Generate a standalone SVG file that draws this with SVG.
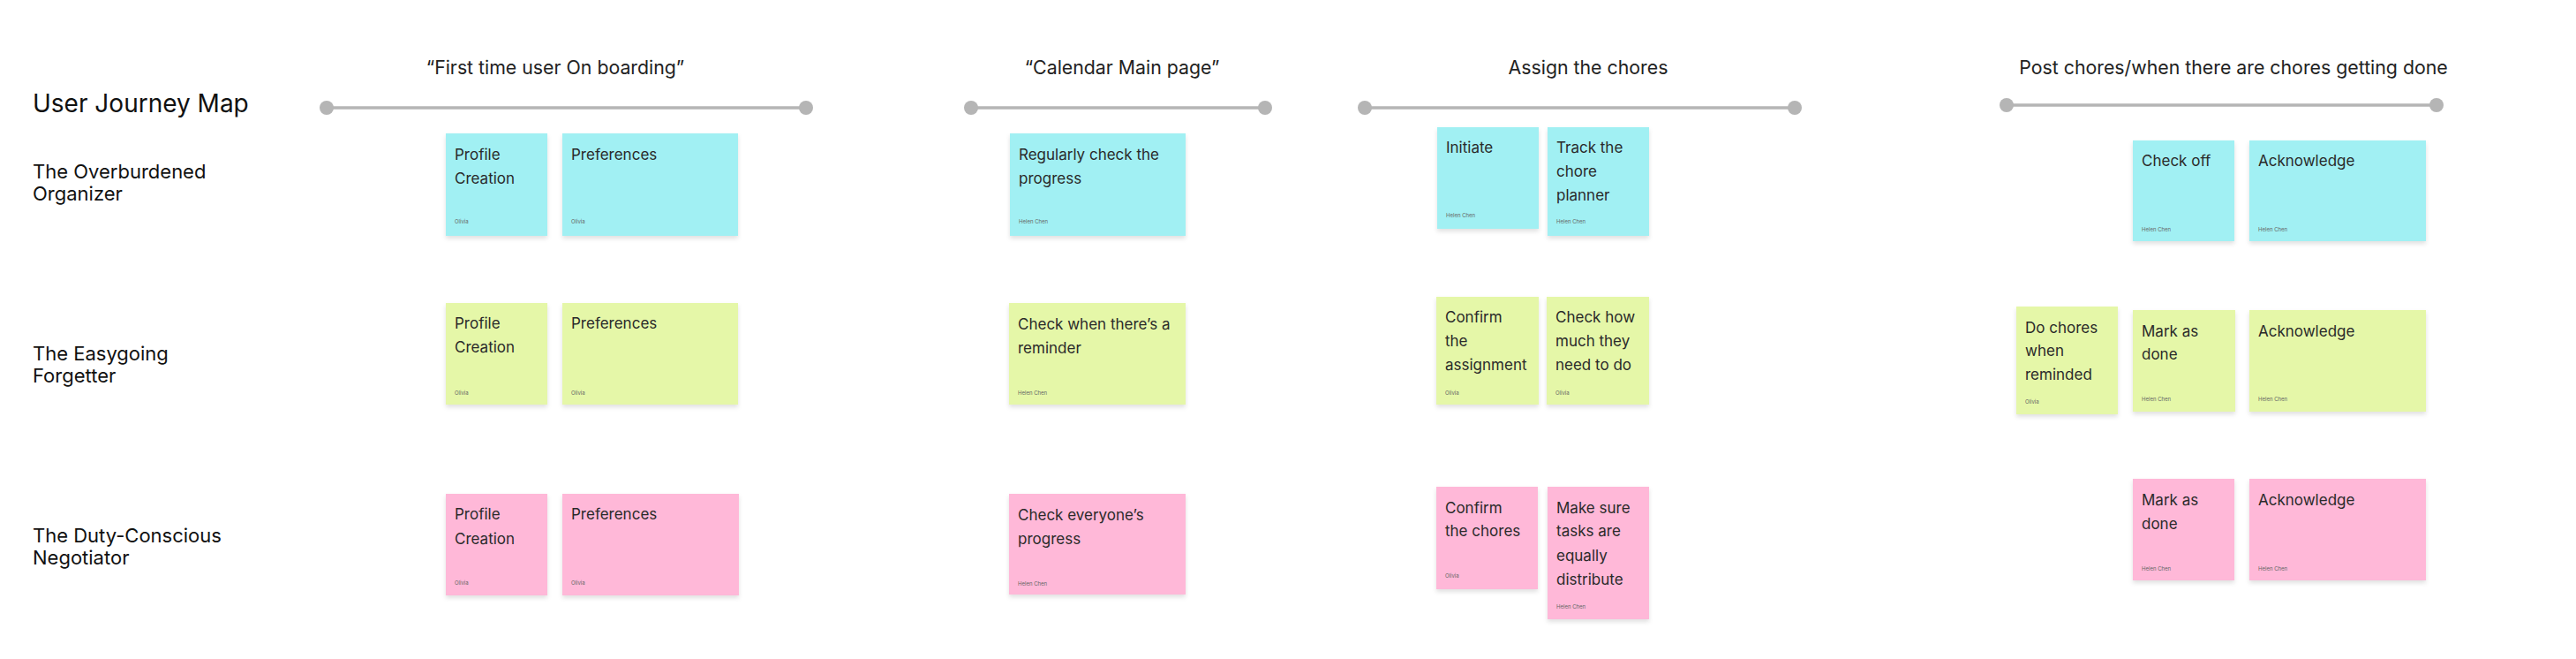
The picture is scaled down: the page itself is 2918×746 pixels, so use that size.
<svg xmlns="http://www.w3.org/2000/svg" width="2918" height="746" viewBox="0 0 2918 746">
<style>
.title{font-family:Inter,"Liberation Sans",sans-serif;font-size:28px;fill:#111}
.head{font-family:Inter,"Liberation Sans",sans-serif;font-size:21.3px;fill:#222;text-anchor:middle}
.row{font-family:Inter,"Liberation Sans",sans-serif;font-size:22px;fill:#111}
.st{font-family:Inter,"Liberation Sans",sans-serif;font-size:17px;fill:#2a2a2a}
.au{font-family:Inter,"Liberation Sans",sans-serif;font-size:6px;fill:#666}
.c{fill:#a1f0f3}
.g{fill:#e5f7a8}
.p{fill:#ffb8d8}
.tl{stroke:#b5b5b5;stroke-width:3.5;fill:none}
.dot{fill:#b5b5b5}
</style>
<defs>
<filter id="sh" x="-20%" y="-20%" width="140%" height="150%">
<feDropShadow dx="0" dy="3" stdDeviation="2.5" flood-color="#000" flood-opacity="0.12"/>
</filter>
</defs>
<rect width="2918" height="746" fill="#fff"/>

<text class="title" x="37" y="127">User Journey Map</text>

<g id="labels">
<text class="row" x="37" y="202">The Overburdened</text>
<text class="row" x="37" y="227">Organizer</text>
<text class="row" x="37" y="408">The Easygoing</text>
<text class="row" x="37" y="433">Forgetter</text>
<text class="row" x="37" y="614">The Duty-Conscious</text>
<text class="row" x="37" y="639">Negotiator</text>
</g>

<g id="headings">
<text class="head" x="629" y="84">“First time user On boarding”</text>
<text class="head" x="1271" y="84">“Calendar Main page”</text>
<text class="head" x="1799" y="84">Assign the chores</text>
<text class="head" x="2530" y="84">Post chores/when there are chores getting done</text>
</g>

<g id="connectors">
<line class="tl" x1="370" y1="122" x2="913" y2="122"/>
<circle class="dot" cx="370" cy="122" r="8"/><circle class="dot" cx="913" cy="122" r="8"/>
<line class="tl" x1="1100" y1="122" x2="1433" y2="122"/>
<circle class="dot" cx="1100" cy="122" r="8"/><circle class="dot" cx="1433" cy="122" r="8"/>
<line class="tl" x1="1546" y1="122" x2="2033" y2="122"/>
<circle class="dot" cx="1546" cy="122" r="8"/><circle class="dot" cx="2033" cy="122" r="8"/>
<line class="tl" x1="2273" y1="119" x2="2760" y2="119"/>
<circle class="dot" cx="2273" cy="119" r="8"/><circle class="dot" cx="2760" cy="119" r="8"/>
</g>

<!-- Row 1 -->
<g id="r1-profile"><rect class="c" x="505" y="151" width="115" height="116" filter="url(#sh)"/>
<text class="st" x="515" y="181">Profile</text><text class="st" x="515" y="208">Creation</text>
<text class="au" x="515" y="253">Olivia</text></g>
<g id="r1-pref"><rect class="c" x="637" y="151" width="199" height="116" filter="url(#sh)"/>
<text class="st" x="647" y="181">Preferences</text>
<text class="au" x="647" y="253">Olivia</text></g>
<g id="r1-cal"><rect class="c" x="1144" y="151" width="199" height="116" filter="url(#sh)"/>
<text class="st" x="1154" y="181">Regularly check the</text><text class="st" x="1154" y="208">progress</text>
<text class="au" x="1154" y="253">Helen Chen</text></g>
<g id="r1-initiate"><rect class="c" x="1628" y="144" width="115" height="115" filter="url(#sh)"/>
<text class="st" x="1638" y="173">Initiate</text>
<text class="au" x="1638" y="246">Helen Chen</text></g>
<g id="r1-track"><rect class="c" x="1753" y="144" width="115" height="123" filter="url(#sh)"/>
<text class="st" x="1763" y="173">Track the</text><text class="st" x="1763" y="200">chore</text><text class="st" x="1763" y="227">planner</text>
<text class="au" x="1763" y="253">Helen Chen</text></g>
<g id="r1-checkoff"><rect class="c" x="2416" y="159" width="115" height="114" filter="url(#sh)"/>
<text class="st" x="2426" y="188">Check off</text>
<text class="au" x="2426" y="262">Helen Chen</text></g>
<g id="r1-ack"><rect class="c" x="2548" y="159" width="200" height="114" filter="url(#sh)"/>
<text class="st" x="2558" y="188">Acknowledge</text>
<text class="au" x="2558" y="262">Helen Chen</text></g>

<!-- Row 2 -->
<g id="r2-profile"><rect class="g" x="505" y="343" width="115" height="115" filter="url(#sh)"/>
<text class="st" x="515" y="372">Profile</text><text class="st" x="515" y="399">Creation</text>
<text class="au" x="515" y="447">Olivia</text></g>
<g id="r2-pref"><rect class="g" x="637" y="343" width="199" height="115" filter="url(#sh)"/>
<text class="st" x="647" y="372">Preferences</text>
<text class="au" x="647" y="447">Olivia</text></g>
<g id="r2-cal"><rect class="g" x="1143" y="343" width="200" height="115" filter="url(#sh)"/>
<text class="st" x="1153" y="373">Check when there’s a</text><text class="st" x="1153" y="400">reminder</text>
<text class="au" x="1153" y="447">Helen Chen</text></g>
<g id="r2-confirm"><rect class="g" x="1627" y="336" width="116" height="122" filter="url(#sh)"/>
<text class="st" x="1637" y="365">Confirm</text><text class="st" x="1637" y="392">the</text><text class="st" x="1637" y="419">assignment</text>
<text class="au" x="1637" y="447">Olivia</text></g>
<g id="r2-checkhow"><rect class="g" x="1752" y="336" width="116" height="122" filter="url(#sh)"/>
<text class="st" x="1762" y="365">Check how</text><text class="st" x="1762" y="392">much they</text><text class="st" x="1762" y="419">need to do</text>
<text class="au" x="1762" y="447">Olivia</text></g>
<g id="r2-dochores"><rect class="g" x="2284" y="347" width="115" height="122" filter="url(#sh)"/>
<text class="st" x="2294" y="377">Do chores</text><text class="st" x="2294" y="403">when</text><text class="st" x="2294" y="430">reminded</text>
<text class="au" x="2294" y="457">Olivia</text></g>
<g id="r2-mark"><rect class="g" x="2416" y="351" width="116" height="115" filter="url(#sh)"/>
<text class="st" x="2426" y="381">Mark as</text><text class="st" x="2426" y="407">done</text>
<text class="au" x="2426" y="454">Helen Chen</text></g>
<g id="r2-ack"><rect class="g" x="2548" y="351" width="200" height="115" filter="url(#sh)"/>
<text class="st" x="2558" y="381">Acknowledge</text>
<text class="au" x="2558" y="454">Helen Chen</text></g>

<!-- Row 3 -->
<g id="r3-profile"><rect class="p" x="505" y="559" width="115" height="115" filter="url(#sh)"/>
<text class="st" x="515" y="588">Profile</text><text class="st" x="515" y="616">Creation</text>
<text class="au" x="515" y="662">Olivia</text></g>
<g id="r3-pref"><rect class="p" x="637" y="559" width="200" height="115" filter="url(#sh)"/>
<text class="st" x="647" y="588">Preferences</text>
<text class="au" x="647" y="662">Olivia</text></g>
<g id="r3-cal"><rect class="p" x="1143" y="559" width="200" height="114" filter="url(#sh)"/>
<text class="st" x="1153" y="589">Check everyone’s</text><text class="st" x="1153" y="616">progress</text>
<text class="au" x="1153" y="663">Helen Chen</text></g>
<g id="r3-confirm"><rect class="p" x="1627" y="551" width="115" height="116" filter="url(#sh)"/>
<text class="st" x="1637" y="581">Confirm</text><text class="st" x="1637" y="607">the chores</text>
<text class="au" x="1637" y="654">Olivia</text></g>
<g id="r3-makesure"><rect class="p" x="1753" y="551" width="115" height="150" filter="url(#sh)"/>
<text class="st" x="1763" y="581">Make sure</text><text class="st" x="1763" y="607">tasks are</text><text class="st" x="1763" y="635">equally</text><text class="st" x="1763" y="662">distribute</text>
<text class="au" x="1763" y="689">Helen Chen</text></g>
<g id="r3-mark"><rect class="p" x="2416" y="542" width="115" height="115" filter="url(#sh)"/>
<text class="st" x="2426" y="572">Mark as</text><text class="st" x="2426" y="599">done</text>
<text class="au" x="2426" y="646">Helen Chen</text></g>
<g id="r3-ack"><rect class="p" x="2548" y="542" width="200" height="115" filter="url(#sh)"/>
<text class="st" x="2558" y="572">Acknowledge</text>
<text class="au" x="2558" y="646">Helen Chen</text></g>
</svg>
